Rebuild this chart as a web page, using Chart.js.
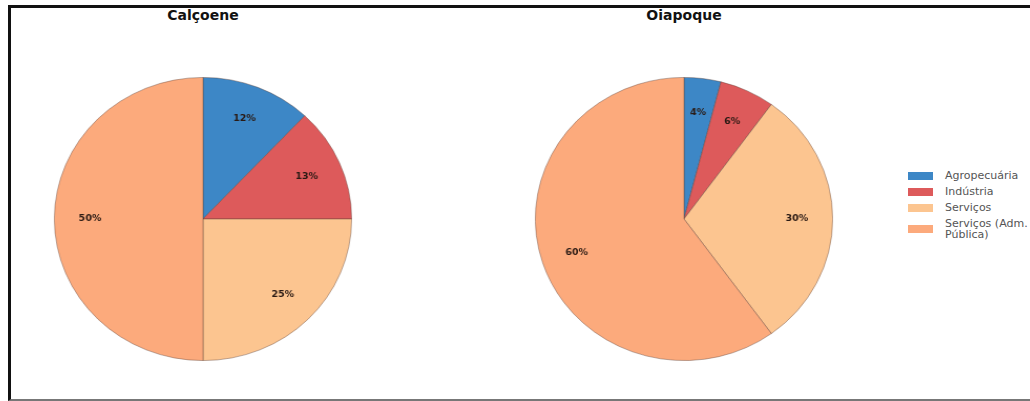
<!DOCTYPE html>
<html>
<head>
<meta charset="utf-8">
<script src="https://cdn.jsdelivr.net/npm/chart.js@4.4.1/dist/chart.umd.min.js"></script>
<style>
    body { margin: 0; width: 1030px; height: 401px; overflow: hidden; background: #fff; font-family: "DejaVu Sans", sans-serif; position: relative; }
    .frame { position: absolute; left: 8px; top: 5px; width: 1040px; height: 391px; border-left: 3px solid #111; border-top: 3px solid #111; border-bottom: 2px solid #777; }
    .title { position: absolute; top: 7px; width: 200px; text-align: center; font-weight: bold; font-size: 14px; color: #111; }
    .pie { position: absolute; width: 284px; height: 284px; top: 77px; transform: scaleX(1.05); }
    #legend { position: absolute; left: 908px; top: 170px; font-size: 11px; color: #555; }
    .item { display: flex; align-items: center; margin-bottom: 5px; }
    .box { width: 25px; height: 8px; margin-right: 12px; flex: none; }
    .lbl { white-space: pre-line; line-height: 11px; }
</style>
</head>
<body>
<div class="frame"></div>
<div class="title" style="left:103px">Calçoene</div>
<div class="title" style="left:584px">Oiapoque</div>
<div class="pie" style="left:61px"><canvas id="pie1" width="284" height="284"></canvas></div>
<div class="pie" style="left:542px"><canvas id="pie2" width="284" height="284"></canvas></div>
<div id="legend"></div>
<script>
// Sector shares (%)
const categories = ['Agropecuária', 'Indústria', 'Serviços', 'Serviços (Adm.\nPública)'];
const calcoeneValues = [12, 13, 25, 50];
const oiapoqueValues = [4, 6, 30, 60];
const colors = ['#3d87c6', '#dd5a5b', '#fcc590', '#fcaa7c'];

// draws the percent text inside each slice
const pctLabels = {
    id: 'pctLabels',
    afterDatasetsDraw(chart) {
        const ctx = chart.ctx;
        const meta = chart.getDatasetMeta(0);
        const data = chart.data.datasets[0].data;
        ctx.save();
        ctx.font = 'bold 9px "DejaVu Sans"';
        ctx.fillStyle = '#2a1a14';
        ctx.textAlign = 'center';
        ctx.textBaseline = 'middle';
        meta.data.forEach((arc, i) => {
            const p = arc.getProps(['x', 'y', 'startAngle', 'endAngle', 'outerRadius'], true);
            const mid = (p.startAngle + p.endAngle) / 2;
            const r = p.outerRadius * 0.76;
            ctx.fillText(data[i] + '%', p.x + Math.cos(mid) * r, p.y + Math.sin(mid) * r);
        });
        ctx.restore();
    }
};

function makePie(id, values) {
    new Chart(document.getElementById(id), {
        type: 'pie',
        data: {
            labels: categories,
            datasets: [{
                data: values,
                backgroundColor: colors,
                borderColor: 'rgba(90, 60, 50, 0.5)',
                borderWidth: 0.8
            }]
        },
        options: {
            responsive: false,
            animation: false,
            plugins: {
                legend: { display: false },
                tooltip: { enabled: false }
            }
        },
        plugins: [pctLabels]
    });
}

makePie('pie1', calcoeneValues);
makePie('pie2', oiapoqueValues);

// legend
const legendEl = document.getElementById('legend');
categories.forEach((c, i) => {
    const item = document.createElement('div');
    item.className = 'item';
    item.innerHTML = '<div class="box" style="background:' + colors[i] + '"></div><div class="lbl"></div>';
    item.querySelector('.lbl').innerText = c;
    legendEl.appendChild(item);
});
</script>
</body>
</html>
